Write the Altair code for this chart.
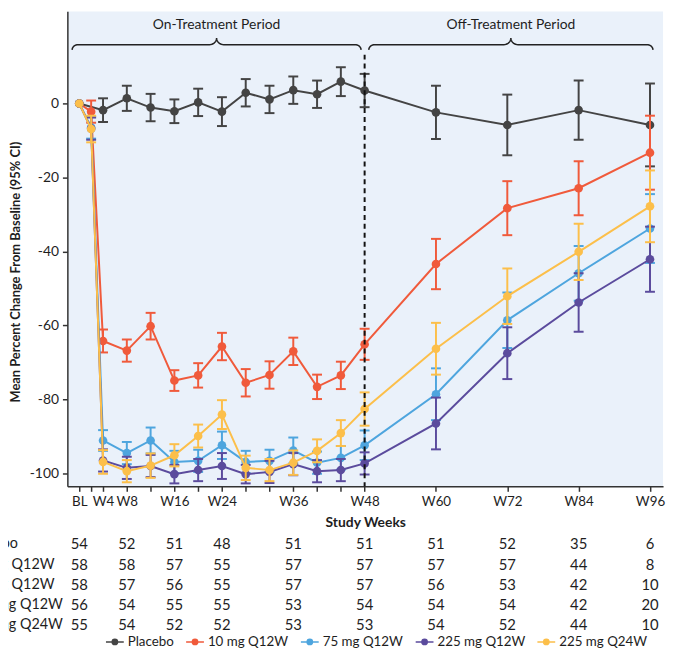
import altair as alt
import numpy as np
import pandas as pd

FONT = "Lato"
TEXT = "#1e1e1e"
AXIS = "#333333"

# ---------------- data ----------------
series_names = ["Placebo", "10 mg Q12W", "75 mg Q12W", "225 mg Q12W", "225 mg Q24W"]
series_colors = ["#444444", "#f05a3b", "#4ea5de", "#5b4b9d", "#fcbf4a"]

weeks_placebo = [0, 4, 8, 12, 16, 20, 24, 28, 32, 36, 40, 44, 48, 60, 72, 84, 96]
weeks_active = [0, 2, 4, 8, 12, 16, 20, 24, 28, 32, 36, 40, 44, 48, 60, 72, 84, 96]

mean_placebo = [0, -1.8, 1.4, -1.1, -2.1, 0.3, -2.2, 2.9, 1.1, 3.6, 2.5, 5.9, 3.5, -2.4, -5.8, -1.8, -5.8]
ci_placebo = [0, 3.2, 3.4, 3.7, 3.2, 3.7, 3.9, 3.7, 3.7, 3.7, 3.7, 3.9, 4.5, 7.2, 8.2, 8.0, 11.2]

mean_10 = [0, -2.2, -64.2, -66.8, -60.2, -74.9, -73.5, -65.7, -75.5, -73.4, -67.0, -76.6, -73.5, -65.1, -43.4, -28.3, -22.9, -13.3]
ci_10 = [0, 3.0, 3.1, 3.0, 3.6, 2.8, 3.3, 3.7, 3.7, 3.7, 3.7, 3.3, 3.7, 4.2, 6.8, 7.3, 7.3, 10.0]

mean_75 = [0, -6.5, -91.1, -94.5, -91.1, -96.9, -96.6, -92.4, -96.9, -96.6, -93.8, -97.1, -95.8, -92.4, -78.6, -58.6, -45.9, -33.8]
ci_75 = [0, 3.0, 2.8, 3.0, 3.5, 3.0, 3.0, 3.7, 3.0, 3.0, 3.5, 3.0, 3.2, 4.0, 7.0, 7.5, 7.4, 9.3]

mean_225 = [0, -6.8, -96.5, -98.5, -98.0, -100.2, -99.1, -98.0, -100.2, -99.6, -97.5, -99.4, -99.1, -97.3, -86.5, -67.5, -53.8, -42.1]
ci_225 = [0, 3.0, 3.0, 3.0, 3.0, 2.5, 3.0, 3.5, 2.5, 3.0, 3.0, 3.0, 3.0, 3.0, 7.0, 7.0, 7.9, 8.8]

mean_225q24 = [0, -6.9, -96.9, -99.4, -97.9, -95.1, -89.9, -84.1, -98.5, -99.1, -97.1, -93.9, -89.1, -82.6, -66.3, -52.1, -40.1, -27.8]
ci_225q24 = [0, 3.6, 3.2, 3.0, 3.3, 3.0, 3.1, 3.9, 3.3, 3.0, 3.3, 3.1, 3.5, 4.5, 7.0, 7.5, 7.6, 9.7]

# number at risk table
table_weeks = [0, 8, 16, 24, 36, 48, 60, 72, 84, 96]
n_placebo = [54, 52, 51, 48, 51, 51, 51, 52, 35, 6]
n_10 = [58, 58, 57, 55, 57, 57, 57, 57, 44, 8]
n_75 = [58, 57, 56, 55, 57, 57, 56, 53, 42, 10]
n_225 = [56, 54, 55, 55, 53, 54, 54, 54, 42, 20]
n_225q24 = [55, 54, 52, 52, 53, 53, 54, 52, 44, 10]

# axis ticks / labels
tick_values = [0, 2, 4, 8, 12, 16, 20, 24, 28, 32, 36, 40, 44, 48, 60, 72, 84, 96]
labeled_weeks = [4, 8, 16, 24, 36, 48, 60, 72, 84, 96]
y_ticks = [0, -20, -40, -60, -80, -100]

# period annotations
period_names = ["On-Treatment Period", "Off-Treatment Period"]
period_start = [-1.2, 48.7]
period_end = [47.4, 96.5]
split_week = [48]

# ---------------- frames ----------------
series_weeks = [weeks_placebo, weeks_active, weeks_active, weeks_active, weeks_active]
series_means = [mean_placebo, mean_10, mean_75, mean_225, mean_225q24]
series_cis = [ci_placebo, ci_10, ci_75, ci_225, ci_225q24]

rows = []
for name, wk, mn, ci in zip(series_names, series_weeks, series_means, series_cis):
    for w, m, c in zip(wk, mn, ci):
        rows.append({"series": name, "week": w, "mean": m, "lo": m - c, "hi": m + c, "ci": c})
df = pd.DataFrame(rows)

table_counts = [n_placebo, n_10, n_75, n_225, n_225q24]
trows = []
for name, counts in zip(series_names, table_counts):
    for w, n in zip(table_weeks, counts):
        trows.append({"series": name, "week": w, "n": str(n)})
tdf = pd.DataFrame(trows)
ldf = pd.DataFrame({"series": series_names})

Y_MIN, Y_MAX = -103.5, 24.9
X_MIN, X_MAX = -2.0, 98.2
BRACE_Y = 15.9
TITLE_Y = 21.15
DASH_TOP = 13.2


def brace_points(x0, x1, y_mid, h_end=1.42, h_cusp=1.8, r_end=1.0, r_cusp=1.2):
    xc = (x0 + x1) / 2
    t = np.linspace(0, np.pi / 2, 10)
    pts = []
    for a in t:
        pts.append((x0 + r_end - r_end * np.cos(a), y_mid - h_end + h_end * np.sin(a)))
    for a in t:
        pts.append((xc - r_cusp + r_cusp * np.sin(a), y_mid + h_cusp - h_cusp * np.cos(a)))
    for a in t[::-1]:
        pts.append((xc + r_cusp - r_cusp * np.sin(a), y_mid + h_cusp - h_cusp * np.cos(a)))
    for a in t[::-1]:
        pts.append((x1 - r_end + r_end * np.cos(a), y_mid - h_end + h_end * np.sin(a)))
    return pts


brows = []
for name, s, e in zip(period_names, period_start, period_end):
    for i, (bx, by) in enumerate(brace_points(s, e, BRACE_Y)):
        brows.append({"period": name, "i": i, "bx": bx, "by": by})
bdf = pd.DataFrame(brows)
pdf = pd.DataFrame({"period": period_names,
                    "center": [(s + e) / 2 for s, e in zip(period_start, period_end)],
                    "y": [TITLE_Y] * len(period_names)})
sdf = pd.DataFrame({"week": split_week, "top": [DASH_TOP], "bottom": [Y_MIN]})

# ---------------- scales / axes ----------------
x_scale = alt.Scale(domain=[X_MIN, X_MAX], nice=False, zero=False)
y_scale = alt.Scale(domain=[Y_MIN, Y_MAX], nice=False, zero=False)
color_scale = alt.Scale(domain=series_names, range=series_colors)

label_expr = ("datum.value == 0 ? 'BL' : (indexof([" + ",".join(str(v) for v in labeled_weeks)
              + "], datum.value) >= 0 ? 'W' + datum.value : '')")

x_axis = alt.Axis(values=tick_values, labelExpr=label_expr, title="Study Weeks",
                  titleFont=FONT, titleFontSize=14, titleFontWeight="bold", titleColor=TEXT,
                  titlePadding=8, labelFont=FONT, labelFontSize=13.5, labelColor=TEXT,
                  labelPadding=3, labelFlush=False, labelOverlap=False, tickSize=5,
                  tickWidth=1.5, tickColor=AXIS, domainColor=AXIS, domainWidth=1.5, grid=False)
y_axis = alt.Axis(values=y_ticks, labelExpr="'' + datum.value",
                  title="Mean Percent Change From Baseline (95% CI)",
                  titleFont=FONT, titleFontSize=13, titleFontWeight="bold", titleColor=TEXT,
                  titleY=263, titlePadding=7, labelFont=FONT, labelFontSize=14, labelColor=TEXT,
                  labelPadding=4, tickSize=5, tickWidth=1.5, tickColor=AXIS,
                  domainColor=AXIS, domainWidth=1.5, grid=False)

legend = alt.Legend(orient="none", legendX=38, legendY=627, direction="horizontal", title=None,
                    symbolType="M-1,0H1M-0.3,0A0.3,0.3,0,1,0,0.3,0A0.3,0.3,0,1,0,-0.3,0Z",
                    symbolSize=324, symbolStrokeWidth=1.5, symbolOpacity=1,
                    labelFont=FONT, labelFontSize=13.5, labelColor=TEXT,
                    labelOffset=3, columnPadding=9)

X = alt.X("week:Q", scale=x_scale, axis=x_axis)


def Y(field):
    return alt.Y(field + ":Q", scale=y_scale, axis=y_axis)


base = alt.Chart(df)
plot_layers = []
for k, name in enumerate(series_names):
    sub = base.transform_filter(alt.datum.series == name)
    bars = sub.transform_filter(alt.datum.ci > 0)
    cenc = alt.Color("series:N", scale=color_scale, legend=legend)
    plot_layers.append(bars.mark_rule(strokeWidth=2).encode(x=X, y=Y("lo"), y2="hi:Q", color=cenc))
    for f in ["lo", "hi"]:
        plot_layers.append(bars.mark_tick(orient="horizontal", size=10, thickness=2, opacity=1).encode(
            x=X, y=Y(f), color=cenc))
    plot_layers.append(sub.mark_line(strokeWidth=2).encode(x=X, y=Y("mean"), color=cenc))
    plot_layers.append(sub.mark_circle(size=76, opacity=1).encode(x=X, y=Y("mean"), color=cenc))

dash = alt.Chart(sdf).mark_rule(strokeDash=[5, 4], strokeWidth=2, color="#111111").encode(
    x=X, y=Y("top"), y2="bottom:Q")
braces = alt.Chart(bdf).mark_line(strokeWidth=1.5, color="#222222").encode(
    x=alt.X("bx:Q", scale=x_scale, axis=x_axis), y=Y("by"),
    order="i:Q", detail="period:N")
ptitles = alt.Chart(pdf).mark_text(font=FONT, fontSize=14, color=TEXT, baseline="middle").encode(
    x=alt.X("center:Q", scale=x_scale, axis=x_axis), y=Y("y"), text="period:N")

main = alt.layer(*plot_layers, dash, braces, ptitles)

row_scale = alt.Scale(type="point", domain=series_names, range=[538.8, 619.8], padding=0)
nums = alt.Chart(tdf).mark_text(font=FONT, fontSize=15, color=TEXT, baseline="middle").encode(
    x=X, y=alt.Y("series:N", scale=row_scale, axis=None), text="n:N")
row_labels = alt.Chart(ldf).mark_text(font=FONT, fontSize=14.5, color=TEXT, baseline="middle",
                                      align="left").encode(
    x=alt.value(-100), y=alt.Y("series:N", scale=row_scale, axis=None), text="series:N")
table = alt.layer(nums, row_labels)

chart = alt.layer(main, table).resolve_scale(y="independent").properties(
    width=602, height=480,
    autosize=alt.AutoSizeParams(type="none"),
    padding={"left": 60, "top": 0, "right": 6, "bottom": 165},
).configure_view(fill="#eaf1fa", strokeWidth=0).configure_axisX(labelOverlap=False)

chart.save("out.html", embed_options={"renderer": "svg", "actions": False})
